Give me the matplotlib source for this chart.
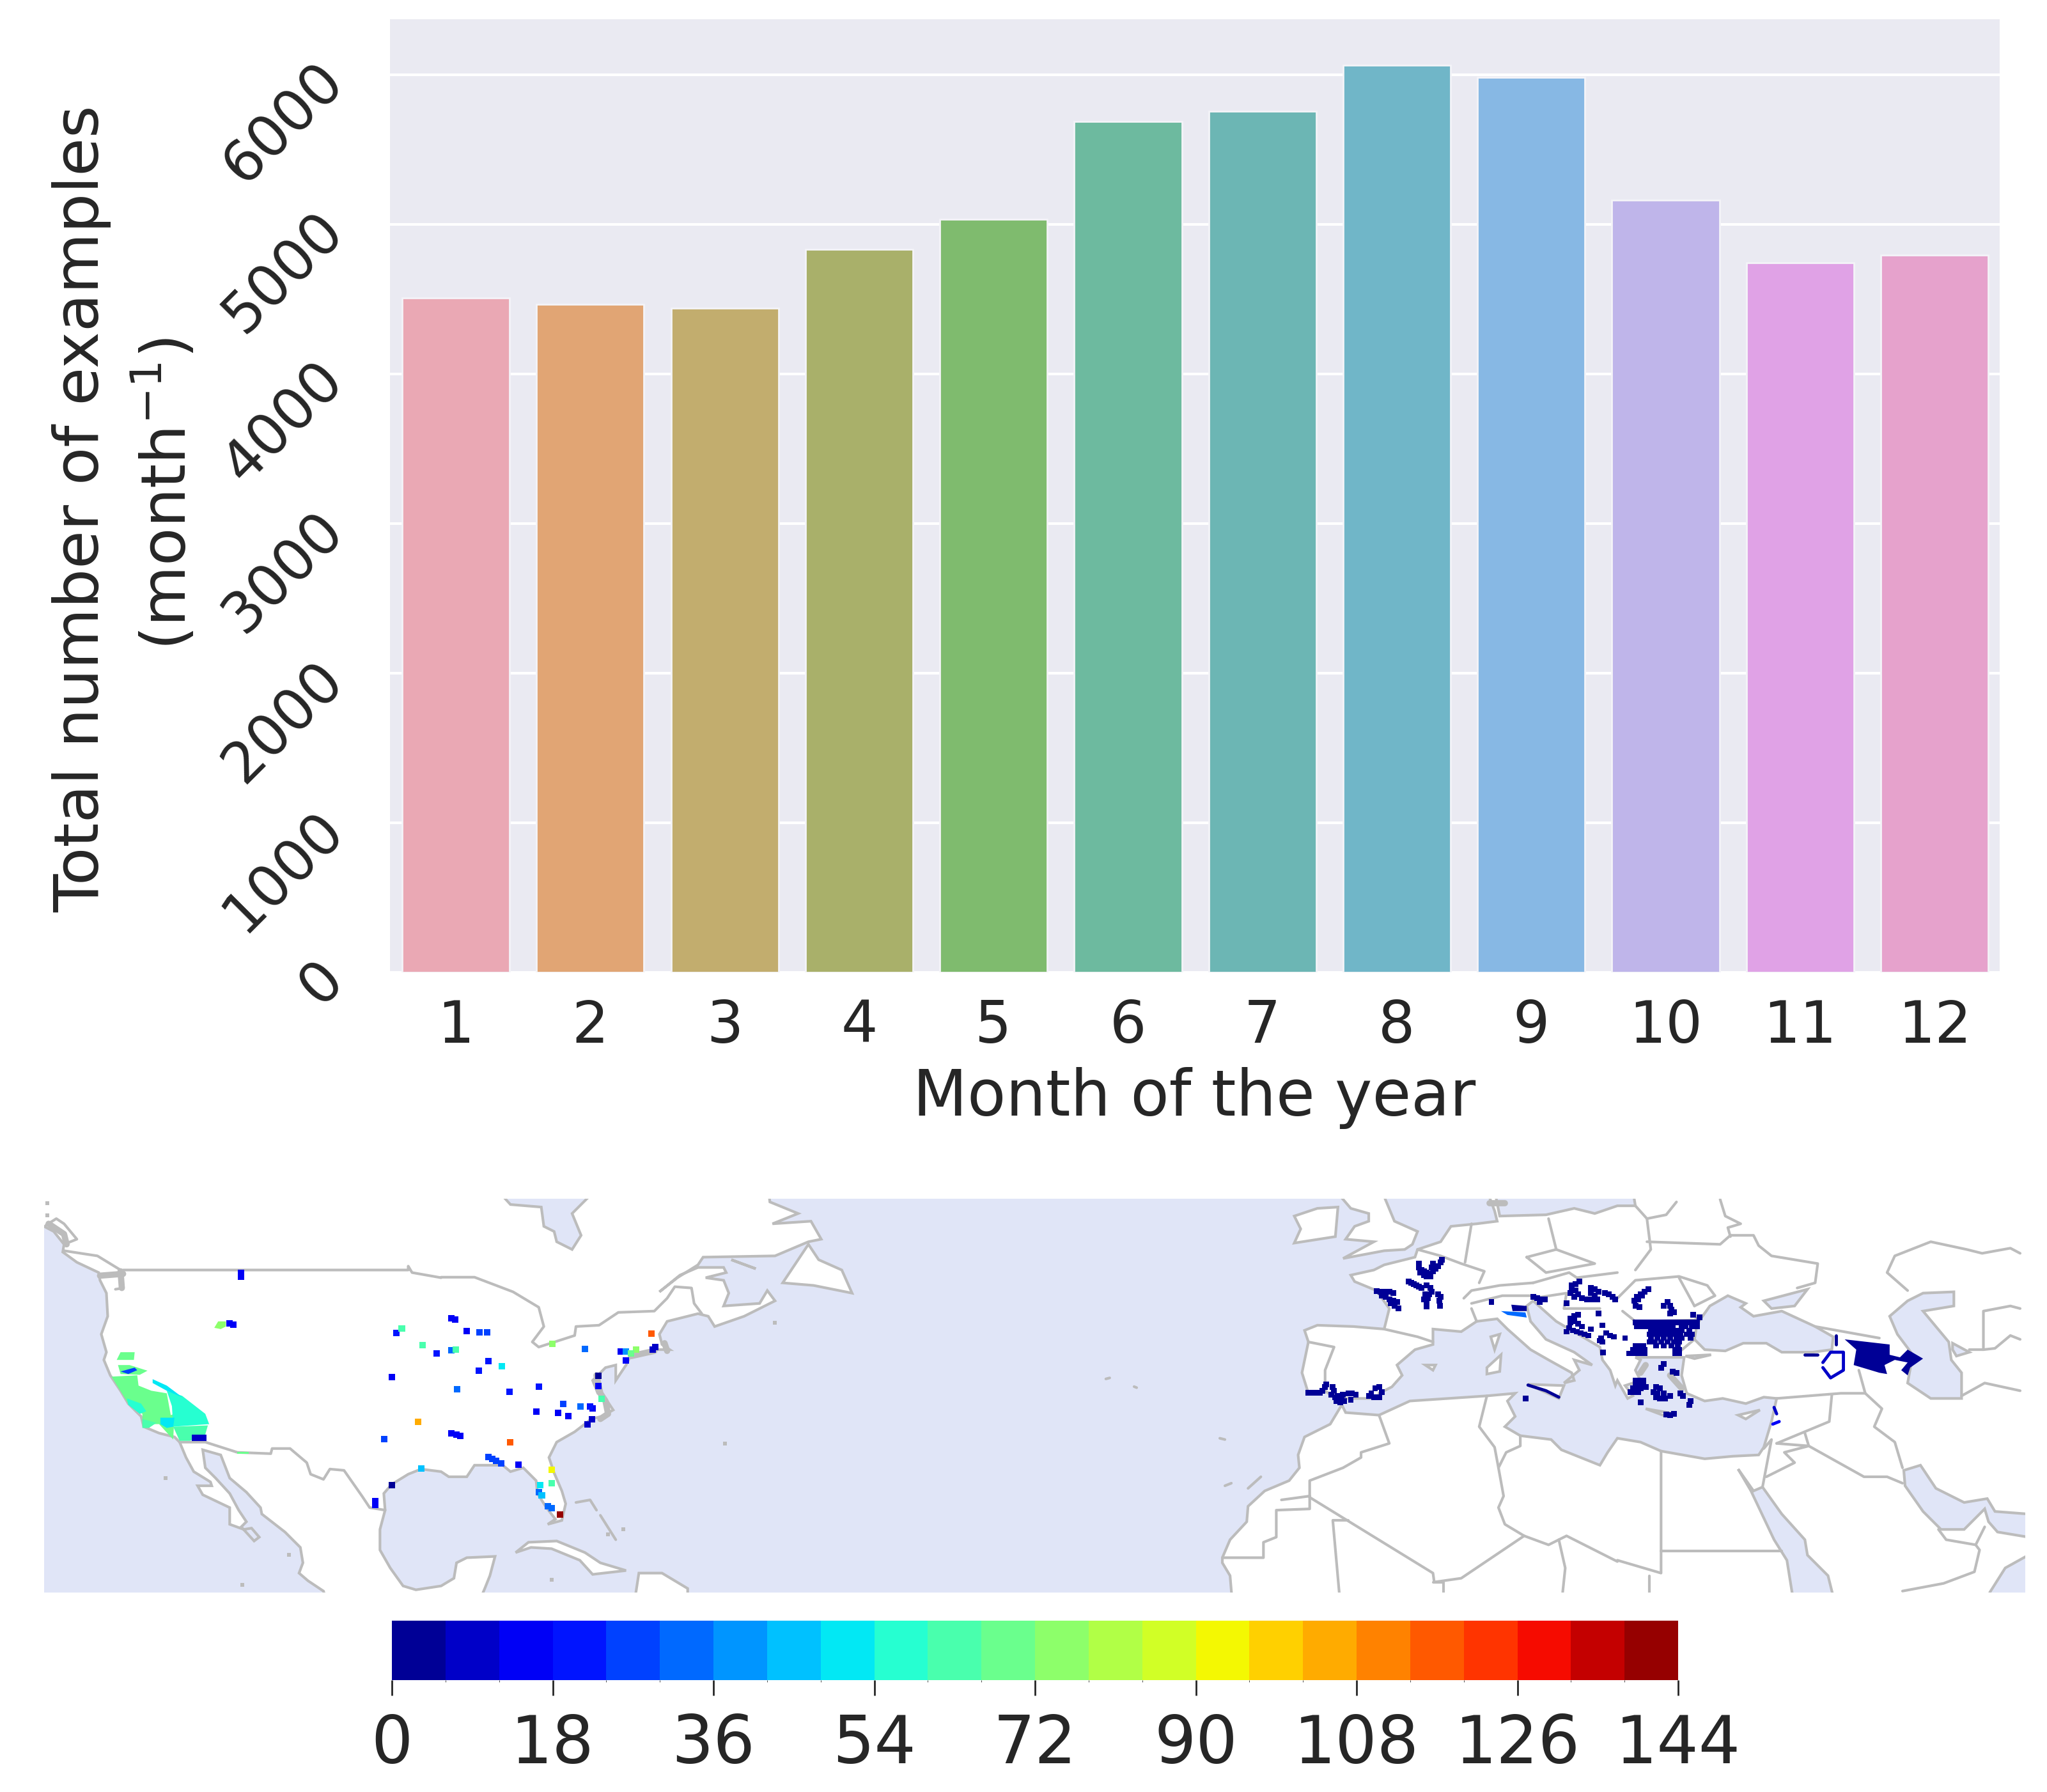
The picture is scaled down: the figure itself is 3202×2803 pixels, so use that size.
import matplotlib
matplotlib.use('Agg')
import matplotlib.pyplot as plt
from matplotlib.colors import BoundaryNorm, ListedColormap
from matplotlib.cm import ScalarMappable
import numpy as np
import seaborn as sns

months = list(range(1, 13))
examples = [4509, 4465, 4439, 4831, 5032, 5686, 5756, 6061, 5982, 5163, 4744, 4796]
bar_colors = ['#eaa8b4', '#e1a574', '#c2ad6e', '#a9b06a', '#7fbb6e', '#6dba9f',
              '#6cb6b4', '#70b6c8', '#87b8e4', '#bfb5ea', '#e0a2e6', '#e6a2cc']
y_ticks = [0, 1000, 2000, 3000, 4000, 5000, 6000]
cbar_ticks = [0, 18, 36, 54, 72, 90, 108, 126, 144]
levels = list(range(0, 150, 6))

# map outlines: (x, y) in zoomed crops of the map
CROP_X = {'A': 60, 'B': 690, 'M': 1320, 'C': 1900, 'D': 2530}
CROP_Y = 1870
CROP_ZOOM = 2.489

def P(crop, pts):
    return [(CROP_X[crop] + x / CROP_ZOOM, CROP_Y + y / CROP_ZOOM) for x, y in pts]

pacific = P('A', [(-20, 120), (22, 120), (60, 140), (100, 190), (95, 220), (150, 260), (235, 300), (240, 330), (265, 380),
                  (270, 470), (245, 540), (265, 610), (255, 640), (280, 700), (320, 760), (350, 810), (400, 860),
                  (410, 900), (470, 925), (530, 940), (550, 960), (575, 1020), (605, 1075), (670, 1115), (675, 1130),
                  (620, 1130), (640, 1165), (745, 1215), (745, 1280), (800, 1300), (830, 1295), (860, 1330), (840, 1345),
                  (790, 1290), (810, 1270), (780, 1225), (745, 1160), (690, 1100), (650, 1060), (640, 990), (710, 1010),
                  (745, 1100), (810, 1155), (865, 1215), (870, 1240), (960, 1310), (1020, 1370), (1030, 1430), (1015, 1470),
                  (1050, 1500), (1110, 1540), (1130, 1600), (-20, 1600)])
atlantic = (P('B', [(140, 1600), (170, 1530), (190, 1480), (210, 1405), (100, 1410), (60, 1430), (50, 1490), (0, 1520)])
            + P('A', [(1470, 1535), (1420, 1520), (1370, 1450), (1330, 1380), (1330, 1300), (1350, 1225), (1345, 1160),
                      (1375, 1125), (1440, 1085), (1490, 1065), (1568, 1075)])
            + P('B', [(30, 1095), (100, 1095), (130, 1050), (240, 1050), (270, 1075), (320, 1060), (370, 1110), (375, 1160),
                      (410, 1215), (445, 1260), (415, 1280), (470, 1265), (485, 1200), (470, 1150), (440, 1080), (420, 1020),
                      (450, 960), (520, 920), (585, 870), (625, 860), (670, 835), (640, 790), (610, 770), (590, 720),
                      (640, 670), (680, 660), (680, 720), (720, 660), (740, 620), (830, 600), (890, 600), (860, 580),
                      (850, 540), (880, 490), (1000, 460), (1040, 470), (1065, 510), (1180, 470), (1300, 410), (1270, 370),
                      (1240, 420), (1100, 430), (1120, 380), (1100, 330), (1030, 320), (1110, 300), (1100, 280), (1000, 280),
                      (930, 310), (850, 375), (920, 320), (1000, 270), (1020, 240), (1300, 235), (1430, 180), (1480, 170),
                      (1440, 100), (1290, 110), (1390, 70), (1280, 25), (1275, -20)])
            + P('C', [(1060, -20), (1090, 60), (1100, 100), (1020, 110), (920, 120), (880, 180), (790, 210), (780, 240),
                      (660, 270), (620, 290), (530, 310), (545, 335), (630, 370), (680, 440), (660, 520), (540, 510),
                      (400, 505), (350, 525), (365, 570), (340, 690), (365, 770), (430, 760), (470, 790), (495, 815),
                      (450, 890), (350, 940), (325, 1010), (330, 1060), (290, 1110), (195, 1150), (130, 1210), (125, 1270),
                      (60, 1340), (30, 1410), (30, 1430), (60, 1480), (70, 1600)]))
baltic = (P('C', [(1090, -20), (1110, 80), (1290, 75), (1400, 50), (1480, 70), (1568, 40)])
          + P('D', [(70, 40), (60, -20)]))
mediterranean = (P('C', [(495, 815), (500, 790), (640, 790), (640, 770), (690, 745), (730, 700), (710, 660), (780, 600), (850, 580),
                         (850, 520), (960, 530), (1020, 490), (1100, 480), (1140, 520), (1230, 600), (1300, 640), (1390, 690),
                         (1400, 720), (1360, 730), (1420, 680), (1400, 640), (1470, 660), (1400, 610), (1290, 560), (1230, 490),
                         (1215, 430), (1240, 410), (1330, 490), (1500, 590), (1510, 640), (1540, 680), (1560, 740)])
                 + P('D', [(0, 720), (40, 790), (60, 780), (30, 740), (90, 720), (70, 680), (90, 640), (70, 630), (240, 630),
                           (260, 630), (250, 700), (270, 770), (340, 800), (410, 790), (500, 810), (570, 785), (620, 790),
                           (600, 880), (570, 980), (550, 1010), (450, 1015), (340, 1025), (170, 995), (90, 960), (0, 945)])
                 + P('C', [(1530, 1000), (1500, 1050), (1400, 1010), (1350, 990), (1310, 950), (1190, 935), (1130, 900),
                           (1170, 860), (1140, 800), (1170, 770), (1060, 780), (760, 800), (640, 855), (510, 845)]))
black_sea = P('D', [(300, 560), (310, 500), (360, 430), (430, 390), (500, 420), (480, 435), (530, 470), (640, 450), (770, 510),
                    (840, 550), (835, 600), (760, 610), (640, 610), (580, 575), (490, 575), (420, 605), (340, 600)])
azov = P('D', [(570, 410), (740, 365), (690, 430), (600, 440)])
marmara = P('D', [(265, 625), (365, 620), (300, 635)])
caspian = P('D', [(1310, 375), (1190, 380), (1130, 410), (1060, 470), (1090, 540), (1150, 620), (1130, 730), (1220, 790), (1340, 790),
                  (1340, 690), (1300, 640), (1290, 570), (1190, 450), (1310, 430)])
aral = P('D', [(1305, 575), (1370, 610), (1320, 625), (1305, 600)])
red_sea = P('D', [(470, 1065), (520, 1150), (610, 1340), (660, 1420), (680, 1545), (700, 1600), (850, 1600), (820, 1480), (740, 1400),
                  (730, 1340), (640, 1240), (565, 1135), (530, 1150)])
persian_gulf = P('D', [(1115, 1070), (1180, 1050), (1240, 1140), (1350, 1195), (1440, 1180), (1470, 1230), (1600, 1240), (1600, 1330),
                       (1480, 1310), (1445, 1270), (1430, 1220), (1350, 1300), (1260, 1300), (1190, 1230), (1120, 1130)])
arabian_sea = P('D', [(1600, 1400), (1510, 1450), (1450, 1545), (1450, 1600), (1600, 1600)])
james_bay = P('B', [(220, -20), (270, 35), (390, 45), (400, 120), (440, 140), (450, 180), (510, 210), (545, 155), (510, 70), (600, -20)])
waters = [pacific, atlantic, baltic, mediterranean, black_sea, azov, marmara, caspian, aral, red_sea, persian_gulf, arabian_sea, james_bay]

islands = [
    P('B', [(290, 1390), (340, 1350), (450, 1345), (560, 1390), (620, 1430), (720, 1460), (590, 1475), (540, 1420), (430, 1375), (350, 1370)]),
    P('B', [(750, 1600), (770, 1470), (860, 1470), (960, 1530), (960, 1600)]),
    P('B', [(1330, 340), (1430, 190), (1470, 250), (1560, 290), (1600, 380), (1450, 350)]),
    P('B', [(1130, 250), (1225, 285), (1170, 265)]),
    P('C', [(650, -20), (700, 100), (790, 140), (770, 190), (740, 210), (660, 215), (500, 245), (620, 180), (510, 170), (545, 120),
            (600, 100), (600, 70), (530, 50), (470, -20)]),
    P('C', [(310, 80), (400, 50), (480, 45), (470, 160), (310, 185), (335, 130), (320, 100)]),
    P('C', [(1060, 670), (1115, 620), (1110, 685), (1060, 695)]),
    P('C', [(1075, 550), (1110, 540), (1090, 600)]),
    P('C', [(1220, 735), (1360, 740), (1340, 790)]),
    P('C', [(820, 660), (860, 660), (850, 680)]),
    P('D', [(110, 830), (225, 850), (190, 860)]),
    P('D', [(470, 855), (555, 835), (500, 870)]),
]

borders = [
    P('A', [(330, 290), (1440, 290), (1440, 275), (1455, 300), (1568, 320)]),
    P('B', [(0, 318), (130, 318), (280, 375), (380, 435), (400, 510), (355, 570), (380, 590), (520, 545), (525, 510), (615, 505), (690, 455),
            (830, 450), (880, 400), (910, 355), (975, 360), (985, 420), (1015, 460)]),
    P('A', [(550, 960), (650, 960), (775, 1000), (905, 1005), (910, 985), (980, 985), (1045, 1040), (1060, 1085), (1110, 1105), (1135, 1065),
            (1190, 1070), (1260, 1170), (1290, 1215), (1350, 1225)]),
    P('A', [(100, 215), (230, 235), (320, 290), (330, 360), (300, 365)]),
    P('A', [(30, 115), (70, 90), (100, 110), (150, 170), (100, 190)]),
    P('B', [(525, 1195), (580, 1185), (605, 1225)]),
    P('B', [(620, 1245), (680, 1340)]),
    P('C', [(660, 520), (790, 550), (850, 570)]),
    P('C', [(365, 570), (465, 590), (430, 680), (430, 740)]),
    P('C', [(790, 210), (880, 235), (960, 265), (1050, 295), (1030, 340)]),
    P('C', [(970, 400), (1000, 370), (1110, 350), (1240, 340)]),
    P('C', [(1000, 440), (1020, 490)]),
    P('C', [(1000, 420), (1120, 390), (1230, 390)]),
    P('C', [(1300, 90), (1330, 210)]),
    P('C', [(1000, 110), (975, 260)]),
    P('C', [(1215, 240), (1330, 210), (1480, 265), (1290, 300), (1215, 240)]),
    P('C', [(1240, 340), (1380, 300), (1410, 320), (1568, 300)]),
    P('C', [(1240, 400), (1370, 380), (1360, 440), (1500, 440)]),
    P('C', [(640, 855), (680, 965), (570, 1000), (570, 1020), (500, 1060), (370, 1110), (370, 1175)]),
    P('C', [(370, 1170), (370, 1220), (240, 1225), (240, 1330), (190, 1350), (190, 1410), (30, 1410)]),
    P('C', [(260, 1185), (370, 1170)]),
    P('C', [(370, 1175), (850, 1470), (855, 1505), (960, 1490), (1205, 1325), (1300, 1360), (1370, 1325), (1568, 1425)]),
    P('C', [(460, 1265), (520, 1265)]),
    P('C', [(460, 1265), (485, 1545)]),
    P('C', [(850, 1505), (890, 1505), (890, 1545)]),
    P('C', [(1060, 780), (1030, 900), (1090, 980), (1105, 1060)]),
    P('C', [(1190, 935), (1190, 975), (1135, 1000), (1105, 1060), (1125, 1170), (1105, 1215), (1130, 1280), (1205, 1325)]),
    P('C', [(1340, 1340), (1365, 1450), (1355, 1545)]),
    P('D', [(70, 40), (115, 90), (130, 210), (70, 290)]),
    P('D', [(115, 180), (400, 190), (440, 155), (530, 155), (550, 195), (600, 235), (780, 265), (770, 340), (700, 360)]),
    P('D', [(115, 90), (190, 75), (230, 25)]),
    P('D', [(400, 15), (420, 80), (480, 110), (430, 125), (440, 160)]),
    P('D', [(0, 400), (70, 330), (240, 315), (350, 350), (380, 390), (300, 430)]),
    P('D', [(240, 320), (300, 430)]),
    P('D', [(20, 450), (70, 490), (300, 485), (320, 470)]),
    P('D', [(240, 610), (300, 560)]),
    P('D', [(1130, 370), (1050, 300), (1080, 235), (1220, 180), (1360, 210), (1420, 225), (1530, 205), (1568, 225)]),
    P('D', [(1425, 600), (1425, 450), (1530, 430), (1568, 440)]),
    P('D', [(1370, 600), (1425, 600), (1470, 595), (1530, 545), (1568, 560)]),
    P('D', [(770, 510), (1020, 555)]),
    P('D', [(940, 680), (965, 770)]),
    P('D', [(620, 790), (870, 770), (965, 770), (1030, 830), (1000, 900), (1080, 960), (1110, 1060)]),
    P('D', [(835, 775), (825, 880), (620, 965)]),
    P('D', [(730, 925), (745, 975), (960, 1095), (1050, 1095), (1110, 1120)]),
    P('D', [(620, 965), (745, 975), (650, 1000), (690, 1040), (580, 1095)]),
    P('D', [(570, 985), (600, 950), (565, 1135)]),
    P('D', [(1340, 780), (1430, 730), (1568, 760)]),
    P('D', [(1110, 1540), (1270, 1510), (1390, 1465), (1410, 1380), (1395, 1360), (1280, 1340), (1250, 1300)]),
    P('D', [(1395, 1360), (1430, 1290)]),
    P('D', [(170, 995), (170, 1470), (0, 1420)]),
    P('D', [(170, 1385), (640, 1385)]),
    P('D', [(125, 1480), (125, 1545)]),
    P('M', [(1020, 714), (1035, 710)]),
    P('M', [(1130, 744), (1140, 748)]),
    P('C', [(20, 945), (40, 950)]),
    P('C', [(130, 1140), (180, 1095)]),
    P('C', [(40, 1130), (65, 1120)]),
]
# dense coastline that reads as thick gray smudges
smudges = [
    P('B', [(605, 700), (620, 770), (640, 800), (650, 850), (620, 870)]),
    P('B', [(740, 625), (830, 605)]),
    P('B', [(870, 575), (880, 605)]),
    P('A', [(240, 312), (330, 305)]),
    P('A', [(320, 295), (325, 360)]),
    P('A', [(40, 110), (100, 150), (110, 190)]),
    P('C', [(1070, 30), (1130, 30)]),
    P('D', [(90, 690), (110, 660)]),
    P('D', [(205, 700), (250, 750)]),
]
speck_a = [(495, 1100), (975, 1400), (795, 1515), (35, 30), (35, 78)]
speck_b = [(1105, 965), (1300, 495), (430, 1495), (710, 1300), (650, 1320)]

# filled areas of the count map: outline and its count
areas = [
    (P('A', [(285, 705), (385, 700), (390, 740), (440, 760), (500, 770), (520, 880), (470, 870), (530, 850), (525, 950), (470, 890), (405, 890), (405, 850), (350, 810)]), 70),
    (P('A', [(500, 760), (560, 780), (650, 850), (665, 890), (525, 900), (520, 820)]), 58),
    (P('A', [(525, 900), (660, 895), (650, 930), (590, 955), (550, 955)]), 64),
    (P('A', [(445, 715), (500, 740), (560, 785), (500, 760), (445, 730)]), 48),
    (P('A', [(475, 865), (530, 865), (525, 900), (500, 905), (475, 890)]), 48),
    (P('A', [(345, 790), (400, 810), (420, 840), (395, 850), (350, 815)]), 54),
    (P('A', [(405, 870), (460, 885), (430, 905), (405, 905)]), 64),
    (P('A', [(320, 610), (375, 610), (372, 640), (305, 640)]), 66),
    (P('A', [(310, 660), (355, 660), (425, 682), (395, 698), (320, 695)]), 66),
    (P('A', [(685, 515), (700, 490), (730, 490), (730, 510), (710, 520)]), 72),
    (P('A', [(775, 998), (820, 998), (820, 1006), (775, 1006)]), 68),
    (P('A', [(598, 932), (655, 932), (655, 955), (598, 955)]), 9),
    (P('A', [(320, 685), (375, 670), (385, 680), (350, 695)]), 24),
    (P('C', [(1115, 450), (1210, 455), (1215, 475), (1140, 465)]), 33),
    (P('C', [(1155, 425), (1215, 430), (1215, 450), (1160, 450)]), 3),
    (P('D', [(885, 560), (1060, 580), (1060, 620), (1100, 630), (1130, 600), (1190, 635), (1140, 670), (1130, 700), (1105, 680), (1130, 650),
             (1080, 640), (1040, 660), (1050, 695), (1020, 690), (920, 660), (930, 600)]), 3),
]
strokes = [
    (P('C', [(1220, 738), (1290, 760), (1340, 785)]), 3),
    (P('D', [(800, 650), (830, 610), (880, 610), (880, 680), (830, 710), (800, 670)]), 6),
    (P('D', [(730, 620), (780, 620)]), 3),
    (P('D', [(850, 545), (850, 580)]), 4),
    (P('D', [(610, 825), (620, 850)]), 6),
    (P('D', [(605, 890), (630, 880)]), 12),
]
# small single cells of the count map
cell_a_x = [790, 790, 745, 760, 1376, 1395, 1415, 1497, 1550, 1478, 1346, 1490, 1376, 1312, 1312]
cell_a_y = [300, 315, 498, 502, 706, 535, 518, 582, 614, 882, 948, 1062, 1128, 1205, 1190]
cell_a_val = [14, 14, 14, 14, 12, 18, 60, 60, 20, 102, 24, 42, 3, 14, 14]
cell_b_x = [40, 55, 100, 150, 180, 40, 57, 183, 236, 147, 63, 267, 382, 475, 542, 590, 580, 370, 455, 495, 570, 588, 40, 60, 75, 270,
            185, 200, 215, 235, 300, 430, 430, 385, 380, 392, 430, 415, 462, 820, 835, 825, 700, 720, 760, 740, 720, 613, 613, 625, 433, 560]
cell_b_y = [478, 482, 528, 533, 533, 602, 600, 645, 665, 683, 755, 765, 745, 812, 822, 830, 822, 842, 847, 858, 890, 872, 925, 932, 937, 960,
            1018, 1025, 1032, 1042, 1048, 1068, 1120, 1128, 1155, 1168, 1217, 1210, 1243, 537, 590, 600, 607, 607, 600, 615, 643, 702, 742, 792, 578, 598]
cell_b_val = [14, 14, 14, 24, 24, 30, 60, 20, 50, 20, 30, 20, 20, 24, 30, 14, 18, 14, 14, 14, 9, 9, 14, 14, 14, 114,
              28, 28, 28, 28, 14, 90, 60, 50, 30, 45, 30, 30, 144, 118, 6, 6, 14, 36, 72, 66, 14, 3, 12, 60, 72, 30]
# navy cells over Europe, count about 3
europe_c = [(795, 265), (795, 280), (805, 290), (815, 295), (825, 300), (835, 305), (815, 310), (825, 315), (840, 315), (850, 295), (860, 285),
            (870, 275), (880, 260), (885, 250), (850, 265), (845, 280), (800, 300),
            (755, 335), (765, 340), (775, 345), (785, 350), (795, 355), (805, 360), (825, 350), (840, 360), (845, 375), (820, 385), (835, 385),
            (830, 400), (815, 405), (825, 420), (825, 432), (870, 385), (880, 395), (875, 410), (878, 430),
            (630, 372), (645, 375), (660, 375), (680, 375), (695, 380), (650, 390), (665, 395), (680, 405), (695, 410), (710, 415), (685, 420),
            (700, 430), (715, 440),
            (365, 768), (380, 768), (395, 768), (410, 768), (420, 760), (430, 745), (435, 735), (460, 745), (465, 760), (455, 775), (470, 785),
            (480, 780), (500, 775), (520, 770), (535, 770), (550, 775), (475, 800), (490, 805), (505, 800), (495, 790), (530, 795),
            (600, 780), (610, 770), (625, 750), (640, 745), (650, 765), (640, 785), (620, 785),
            (1078, 415), (1210, 790), (1240, 395), (1255, 400), (1270, 405), (1285, 405), (1265, 415),
            (1390, 350), (1405, 345), (1420, 335), (1390, 365), (1405, 370), (1385, 380), (1415, 385), (1430, 400), (1450, 405), (1470, 405),
            (1490, 405), (1465, 360), (1480, 365), (1495, 375), (1465, 380), (1480, 390), (1520, 380), (1535, 385), (1550, 395), (1560, 405), (1400, 395),
            (1495, 460), (1385, 480), (1400, 470), (1415, 465), (1385, 495), (1400, 490), (1415, 500), (1430, 510), (1380, 515), (1395, 525),
            (1410, 530), (1425, 535), (1440, 540), (1455, 545), (1370, 530), (1465, 520), (1510, 505), (1525, 535), (1540, 545), (1555, 550),
            (1505, 555), (1510, 570), (1500, 565), (1370, 420), (1512, 612)]
europe_d = [(120, 365), (105, 375), (90, 385), (75, 395), (65, 410), (80, 405), (95, 390), (70, 430), (85, 435), (180, 430), (195, 415), (205, 430),
            (210, 445), (220, 455), (205, 460), (295, 465), (320, 475), (310, 500),
            (180, 655), (170, 670), (215, 685), (230, 690), (70, 720), (85, 720), (100, 720), (70, 735), (85, 735), (100, 735), (110, 745), (60, 750),
            (75, 750), (90, 750), (50, 765), (65, 765), (80, 765), (90, 805), (150, 745), (165, 750), (140, 765), (155, 770), (180, 770), (150, 785),
            (165, 790), (185, 790), (205, 780), (245, 770), (255, 780), (285, 800), (280, 815), (190, 852), (205, 855), (220, 850)]
# Bulgarian patch, row by row: (y, x positions)
bulgaria_rows = [
    (495, [70, 85, 100, 115, 130, 145, 160, 175, 190, 205, 220, 235, 250, 265, 280, 295, 310]),
    (510, [75, 90, 105, 125, 140, 155, 170, 185, 200, 215, 250, 265, 290, 310]),
    (525, [130, 150, 170, 190, 210, 230, 250, 280]),
    (540, [125, 145, 165, 185, 205, 225, 245, 270, 290]),
    (555, [30, 130, 155, 180, 205, 230, 250, 285]),
    (570, [125, 145, 170, 195, 220, 240]),
    (585, [70, 85, 100, 150, 180, 210, 235]),
    (600, [60, 75, 90, 105, 225, 240]),
    (615, [45, 60, 75, 90, 105, 225, 240]),
]

W, H = 3202, 2803

def add_ax(x0, y0, x1, y1):
    return fig.add_axes([x0 / W, 1 - y1 / H, (x1 - x0) / W, (y1 - y0) / H])

sns.set_style('darkgrid')
fig = plt.figure(figsize=(W / 100, H / 100), dpi=100)
text_color = '#262626'

# bar chart
ax = add_ax(609, 29, 3128, 1521)
sns.barplot(x=months, y=examples, hue=months, palette=bar_colors, legend=False,
            saturation=1, edgecolor='#f4f4f8', linewidth=2, ax=ax)
ax.set_xlim(-0.495, 11.485)
ax.set_ylim(0, 6375)
ax.set_yticks(y_ticks)
ax.tick_params(axis='x', labelsize=65, colors=text_color, pad=26)
ax.tick_params(axis='y', labelsize=64, colors=text_color, labelrotation=45, pad=36)
ax.set_xlabel('Month of the year', fontsize=71, color=text_color, labelpad=14)
ax.set_ylabel('')
ax.grid(axis='y', color='white', linewidth=3)
ax.grid(axis='x', visible=False)
fig.text(128 / W, 1 - 796 / H, 'Total number of examples', rotation=90, fontsize=70, color=text_color,
         ha='center', va='center')
fig.text(259 / W, 1 - 772 / H, '(month$^{-1}$)', rotation=90, fontsize=70, color=text_color,
         ha='center', va='center')

# map
cmap = ListedColormap(plt.get_cmap('jet')((np.arange(24) + 0.5) / 24))
norm = BoundaryNorm(levels, 24)
map_ax = add_ax(69, 1875, 3168, 2491)
map_ax.set_xlim(69, 3168)
map_ax.set_ylim(2491, 1875)
map_ax.axis('off')
water_color = '#e0e5f7'
line_color = '#bcbcbc'
for poly in waters:
    map_ax.fill(*zip(*poly), facecolor=water_color, edgecolor=line_color, linewidth=3, zorder=1)
for poly in islands:
    map_ax.fill(*zip(*poly), facecolor='white', edgecolor=line_color, linewidth=3, zorder=2)
for line in borders:
    map_ax.plot(*zip(*line), color=line_color, linewidth=3, zorder=2)
for line in smudges:
    map_ax.plot(*zip(*line), color=line_color, linewidth=7, zorder=2)
for crop, specks in [('A', speck_a), ('B', speck_b)]:
    pts = P(crop, specks)
    map_ax.scatter([p[0] for p in pts], [p[1] for p in pts], color=line_color, marker='s', s=20, linewidths=0, zorder=2)
for poly, val in areas:
    map_ax.fill(*zip(*poly), facecolor=cmap(norm(val)), edgecolor='none', zorder=3)
for line, val in strokes:
    map_ax.plot(*zip(*line), color=cmap(norm(val)), linewidth=3.5, zorder=3)
for crop, xs, ys, vals in [('A', cell_a_x, cell_a_y, cell_a_val), ('B', cell_b_x, cell_b_y, cell_b_val)]:
    pts = P(crop, list(zip(xs, ys)))
    map_ax.scatter([p[0] for p in pts], [p[1] for p in pts], c=vals, cmap=cmap, norm=norm,
                   marker='s', s=52, linewidths=0, zorder=4)
bulgaria = [(x, y) for y, xs in bulgaria_rows for x in xs]
for crop, cells in [('C', europe_c), ('D', europe_d + bulgaria)]:
    pts = P(crop, cells)
    map_ax.scatter([p[0] for p in pts], [p[1] for p in pts], c=[3] * len(pts), cmap=cmap, norm=norm,
                   marker='s', s=40, linewidths=0, zorder=4)

# colorbar
cax = add_ax(613, 2535, 2625, 2628)
cb = fig.colorbar(ScalarMappable(norm=norm, cmap=cmap), cax=cax, orientation='horizontal', ticks=cbar_ticks)
cb.outline.set_visible(False)
cb.ax.tick_params(length=17, width=2, labelsize=74, colors=text_color, pad=20)
cb.ax.set_xticklabels([str(t) for t in cbar_ticks])

fig.savefig('out.png', dpi=100)
